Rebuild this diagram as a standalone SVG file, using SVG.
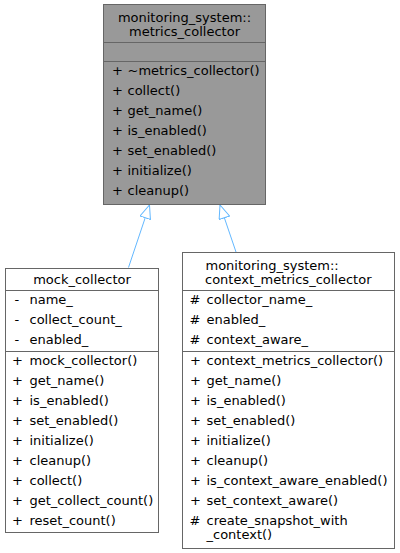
<svg xmlns="http://www.w3.org/2000/svg" width="400" height="553" viewBox="0 0 400 553">
<style>
text{font-family:"DejaVu Sans",sans-serif;font-size:13px;fill:#000}
.box{stroke:#666;stroke-width:1}
.sep{stroke:#666;stroke-width:1}
.c{text-anchor:middle}
.edge{stroke:#63b8ff;stroke-width:1;fill:none}
</style>
<defs>
<marker id="inh" viewBox="0 0 14 12" refX="14" refY="6" markerWidth="14" markerHeight="12" markerUnits="userSpaceOnUse" orient="auto">
<path d="M0.5,0.5 L14,6 L0.5,11.5 Z" fill="#fff" stroke="#63b8ff" stroke-width="1"/>
</marker>
</defs>
<g id="connectors">
<line class="edge" x1="128.5" y1="267.5" x2="149.5" y2="205" marker-end="url(#inh)"/>
<line class="edge" x1="236" y1="252" x2="220" y2="205" marker-end="url(#inh)"/>
</g>
<g id="metrics_collector">
<rect class="box" x="103.5" y="4.5" width="162" height="200" fill="#999"/>
<line class="sep" x1="103.5" y1="42.5" x2="265.5" y2="42.5"/>
<line class="sep" x1="103.5" y1="61.5" x2="265.5" y2="61.5"/>
<text class="c" x="184.5" y="22">monitoring_system::</text>
<text class="c" x="184.5" y="36">metrics_collector</text>
<text x="112" y="75">+</text><text x="127.5" y="75">~metrics_collector()</text>
<text x="112" y="95">+</text><text x="127.5" y="95">collect()</text>
<text x="112" y="115">+</text><text x="127.5" y="115">get_name()</text>
<text x="112" y="135">+</text><text x="127.5" y="135">is_enabled()</text>
<text x="112" y="155">+</text><text x="127.5" y="155">set_enabled()</text>
<text x="112" y="175">+</text><text x="127.5" y="175">initialize()</text>
<text x="112" y="195">+</text><text x="127.5" y="195">cleanup()</text>
</g>
<g id="mock_collector">
<rect class="box" x="5.5" y="268.5" width="153" height="264" fill="#fff"/>
<line class="sep" x1="5.5" y1="290.5" x2="158.5" y2="290.5"/>
<line class="sep" x1="5.5" y1="351.5" x2="158.5" y2="351.5"/>
<text class="c" x="82" y="284">mock_collector</text>
<text x="14.5" y="304">-</text><text x="29.5" y="304">name_</text>
<text x="14.5" y="324">-</text><text x="29.5" y="324">collect_count_</text>
<text x="14.5" y="344">-</text><text x="29.5" y="344">enabled_</text>
<text x="12" y="365">+</text><text x="29.5" y="365">mock_collector()</text>
<text x="12" y="385">+</text><text x="29.5" y="385">get_name()</text>
<text x="12" y="405">+</text><text x="29.5" y="405">is_enabled()</text>
<text x="12" y="425">+</text><text x="29.5" y="425">set_enabled()</text>
<text x="12" y="445">+</text><text x="29.5" y="445">initialize()</text>
<text x="12" y="465">+</text><text x="29.5" y="465">cleanup()</text>
<text x="12" y="485">+</text><text x="29.5" y="485">collect()</text>
<text x="12" y="505">+</text><text x="29.5" y="505">get_collect_count()</text>
<text x="12" y="525">+</text><text x="29.5" y="525">reset_count()</text>
</g>
<g id="context_metrics_collector">
<rect class="box" x="182.5" y="252.5" width="212" height="296" fill="#fff"/>
<line class="sep" x1="182.5" y1="290.5" x2="394.5" y2="290.5"/>
<line class="sep" x1="182.5" y1="351.5" x2="394.5" y2="351.5"/>
<text x="205.5" y="270">monitoring_system::</text>
<text x="205" y="284">context_metrics_collector</text>
<text x="189.5" y="304">#</text><text x="206.5" y="304">collector_name_</text>
<text x="189.5" y="324">#</text><text x="206.5" y="324">enabled_</text>
<text x="189.5" y="344">#</text><text x="206.5" y="344">context_aware_</text>
<text x="190" y="365">+</text><text x="206.5" y="365">context_metrics_collector()</text>
<text x="190" y="385">+</text><text x="206.5" y="385">get_name()</text>
<text x="190" y="405">+</text><text x="206.5" y="405">is_enabled()</text>
<text x="190" y="425">+</text><text x="206.5" y="425">set_enabled()</text>
<text x="190" y="445">+</text><text x="206.5" y="445">initialize()</text>
<text x="190" y="465">+</text><text x="206.5" y="465">cleanup()</text>
<text x="190" y="485">+</text><text x="206.5" y="485">is_context_aware_enabled()</text>
<text x="190" y="505">+</text><text x="206.5" y="505">set_context_aware()</text>
<text x="189.5" y="525">#</text><text x="206.5" y="525">create_snapshot_with</text>
<text x="206.5" y="538.5">_context()</text>
</g>
</svg>
